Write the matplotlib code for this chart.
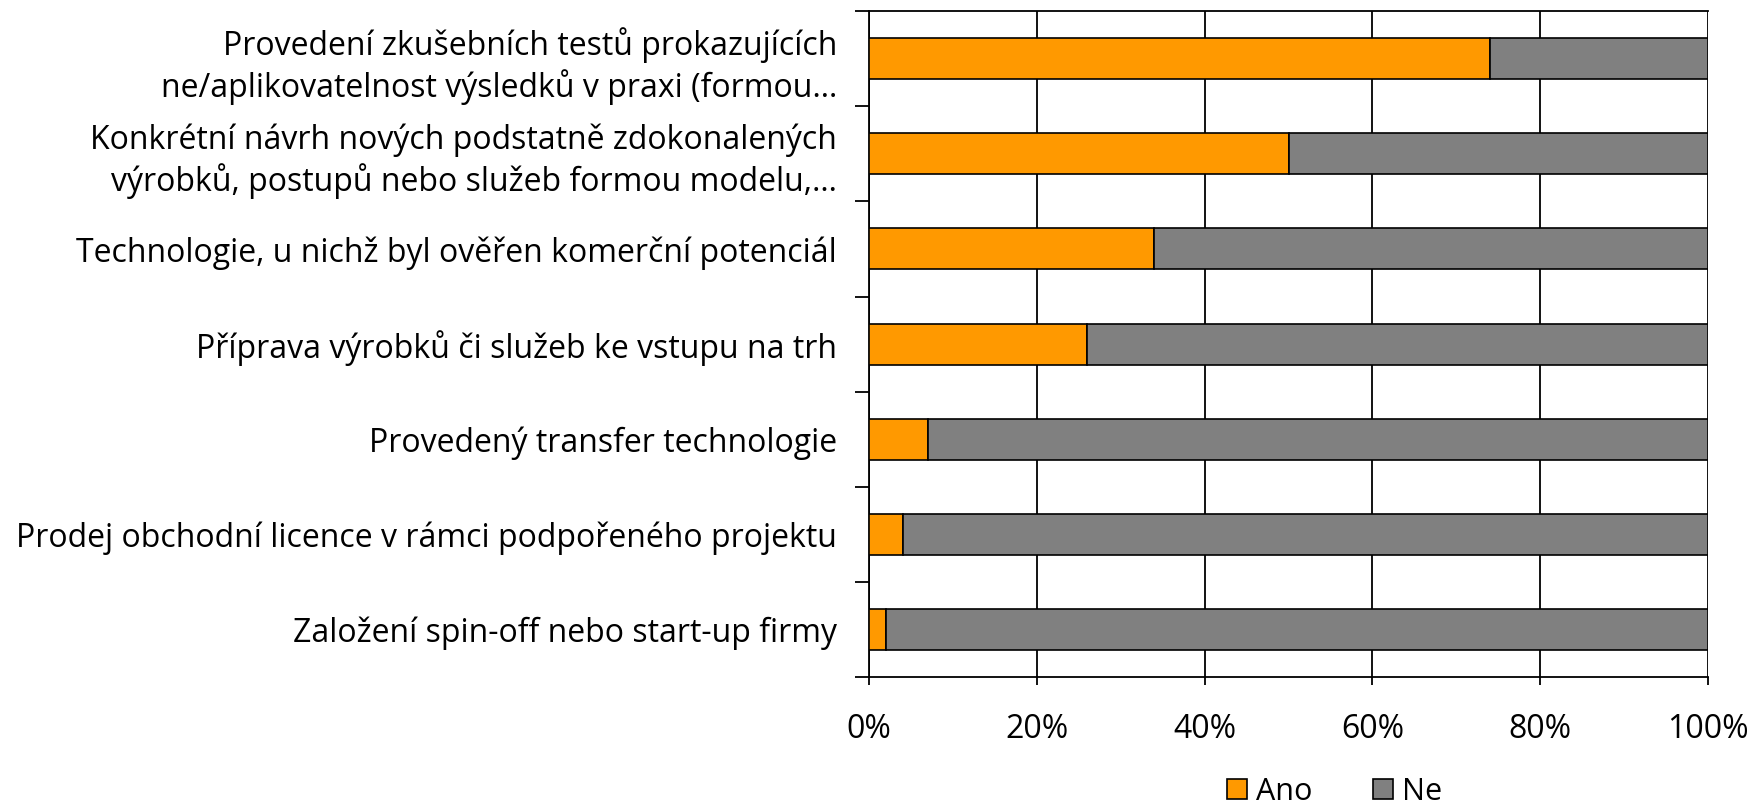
import numpy as np
import matplotlib.pyplot as plt
from matplotlib.ticker import PercentFormatter

plt.rcParams['font.family'] = ['Open Sans', 'DejaVu Sans']

# ============================================================
# Data
# ============================================================
categories = [
    "Provedení zkušebních testů prokazujících\nne/aplikovatelnost výsledků v praxi (formou…",
    "Konkrétní návrh nových podstatně zdokonalených\nvýrobků, postupů nebo služeb formou modelu,…",
    "Technologie, u nichž byl ověřen komerční potenciál",
    "Příprava výrobků či služeb ke vstupu na trh",
    "Provedený transfer technologie",
    "Prodej obchodní licence v rámci podpořeného projektu",
    "Založení spin-off nebo start-up firmy",
]
ano = [74, 50, 34, 26, 7, 4, 2]
ne = [26, 50, 66, 74, 93, 96, 98]
series_names = ["Ano", "Ne"]
colors = ["#FF9900", "#808080"]

# ============================================================
# Plot
# ============================================================
fig = plt.figure(figsize=(17.5, 8.1), dpi=100)
ax = fig.add_axes([0.4966, 0.164, 0.4794, 0.8224])

y = np.arange(len(categories))[::-1]
ax.barh(y, ano, height=0.43, color=colors[0], edgecolor="black", linewidth=1.2,
        label=series_names[0], zorder=3)
ax.barh(y, ne, left=ano, height=0.43, color=colors[1], edgecolor="black", linewidth=1.2,
        label=series_names[1], zorder=3)

ax.set_xlim(0, 100)
ax.set_ylim(-0.5, len(categories) - 0.5)
ax.set_xticks(np.arange(0, 101, 20))
ax.xaxis.set_major_formatter(PercentFormatter(decimals=0))
ax.grid(axis="x", color="black", linewidth=1.3, zorder=0)

ax.set_yticks(y)
ax.set_yticklabels(categories, fontsize=23, linespacing=1.25)
ax.tick_params(axis="y", which="major", length=0, pad=23)
ax.set_yticks(np.arange(-0.5, len(categories), 1.0), minor=True)
ax.tick_params(axis="y", which="minor", length=10, width=1.3, direction="out")
ax.tick_params(axis="x", length=6, width=1.3, labelsize=23, pad=20)

for side in ["left", "bottom", "top"]:
    ax.spines[side].set_linewidth(1.3)
ax.spines["right"].set_visible(False)

ax.legend(loc="center", bbox_to_anchor=(0.555, -0.172), ncol=2, frameon=False,
          fontsize=22, handlelength=0.65, handleheight=0.65, columnspacing=2.0,
          handletextpad=0.3, borderaxespad=0, borderpad=0)

fig.savefig("out.png", dpi=100)
